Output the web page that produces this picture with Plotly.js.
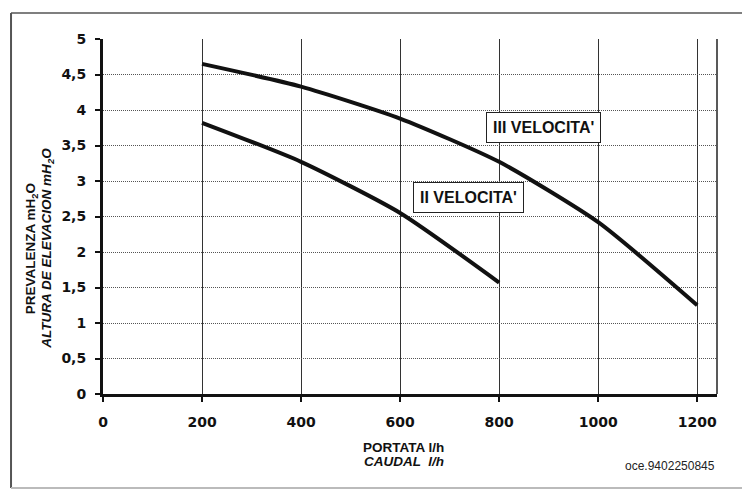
<!DOCTYPE html>
<html>
<head>
<meta charset="utf-8">
<script src="https://cdn.plot.ly/plotly-3.0.1.min.js"></script>
<style>html,body{margin:0;padding:0;background:#fff;}#chart{width:742px;height:489px;}</style>
</head>
<body>
<div id="chart"></div>
<script>
const portata = [200, 400, 600, 800, 1000, 1200];
const velocita3 = [4.65, 4.33, 3.88, 3.27, 2.42, 1.25];
const portata2 = [200, 400, 600, 800];
const velocita2 = [3.82, 3.27, 2.55, 1.57];
const xTicks = [0, 200, 400, 600, 800, 1000, 1200];
const yTicks = [0, 0.5, 1, 1.5, 2, 2.5, 3, 3.5, 4, 4.5, 5];
const yTickText = ["0", "0,5", "1", "1,5", "2", "2,5", "3", "3,5", "4", "4,5", "5"];
const seriesLabels = ["III VELOCITA'", "II VELOCITA'"];
const labelPos = [[890, 3.76], [738, 2.77]];

const lineStyle = {color: '#111', width: 4, shape: 'spline', smoothing: 0.6};
const traces = [
  {x: portata, y: velocita3, mode: 'lines', line: lineStyle, hoverinfo: 'skip', showlegend: false},
  {x: portata2, y: velocita2, mode: 'lines', line: lineStyle, hoverinfo: 'skip', showlegend: false}
];

const tickFont = {family: 'DejaVu Sans, Liberation Sans, Arial, sans-serif', size: 14, color: '#111'};
const bold = s => '<b>' + s + '</b>';

const annotations = seriesLabels.map((t, i) => ({
  x: labelPos[i][0], y: labelPos[i][1], xref: 'x', yref: 'y',
  text: '<b>' + t + '</b>', showarrow: false,
  font: {family: 'Liberation Sans, Arial, sans-serif', size: 16, color: '#111'},
  bgcolor: '#fff', bordercolor: '#222', borderwidth: 1, borderpad: 6
}));
const titleFont = {family: 'Liberation Sans, Arial, sans-serif', size: 13.5, color: '#111'};
annotations.push(
  {xref: 'paper', yref: 'paper', x: -0.133, y: 0.41, textangle: -90, showarrow: false,
   text: '<b>PREVALENZA mH<sub>2</sub>O</b>', font: titleFont},
  {xref: 'paper', yref: 'paper', x: -0.108, y: 0.41, textangle: -90, showarrow: false,
   text: '<b><i>ALTURA DE ELEVACION mH<sub>2</sub>O</i></b>', font: titleFont},
  {xref: 'paper', yref: 'paper', x: 0.49, y: -0.152, yanchor: 'middle', showarrow: false,
   text: '<b>PORTATA l/h</b>', font: titleFont},
  {xref: 'paper', yref: 'paper', x: 0.49, y: -0.189, yanchor: 'middle', showarrow: false,
   text: '<b><i>CAUDAL  l/h</i></b>', font: titleFont},
  {xref: 'paper', yref: 'paper', x: 1.0, y: -0.203, xanchor: 'right', yanchor: 'middle', showarrow: false,
   text: 'oce.9402250845', font: {family: 'Liberation Sans, Arial, sans-serif', size: 12, color: '#222'}}
);

const shapes = [
  {type: 'line', xref: 'paper', yref: 'paper', x0: -0.1498, x1: -0.1498, y0: 1.073, y1: -0.265, line: {color: '#555', width: 2}},
  {type: 'line', xref: 'paper', yref: 'paper', x0: -0.1498, x1: 1.05, y0: 1.073, y1: 1.073, line: {color: '#555', width: 1.5}},
  {type: 'line', xref: 'paper', yref: 'paper', x0: -0.1498, x1: 1.05, y0: -0.265, y1: -0.265, line: {color: '#bbb', width: 2}},
  {type: 'line', xref: 'paper', yref: 'paper', x0: 1, x1: 1, y0: 0, y1: 1, line: {color: '#222', width: 1.5}}
];

const layout = {
  width: 742, height: 489,
  margin: {l: 103, r: 25, t: 39, b: 95},
  paper_bgcolor: '#fff', plot_bgcolor: '#fff',
  showlegend: false,
  xaxis: {
    range: [0, 1240], tickvals: xTicks, ticktext: xTicks.map(v => bold(String(v))),
    tickfont: tickFont, ticks: 'outside', ticklen: 5, tickwidth: 2, tickcolor: '#111',
    ticklabelstandoff: 8,
    showgrid: true, gridcolor: '#333', gridwidth: 1,
    zeroline: false, showline: true, linecolor: '#111', linewidth: 3,
    fixedrange: true
  },
  yaxis: {
    range: [0, 5], tickvals: yTicks, ticktext: yTickText.map(bold),
    tickfont: tickFont, ticks: 'outside', ticklen: 5, tickwidth: 2, tickcolor: '#111',
    ticklabelstandoff: 6,
    showgrid: true, gridcolor: '#555', gridwidth: 1, griddash: '1px,1px',
    zeroline: false, showline: true, linecolor: '#111', linewidth: 3,
    fixedrange: true
  },
  annotations: annotations,
  shapes: shapes
};

Plotly.newPlot('chart', traces, layout, {displayModeBar: false, staticPlot: true});
</script>
</body>
</html>
